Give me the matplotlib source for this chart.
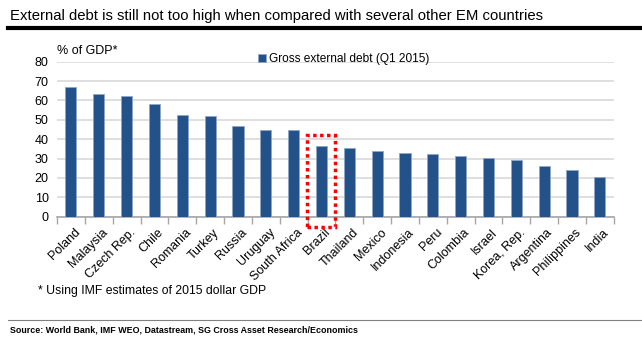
import numpy as np
import matplotlib.pyplot as plt
import matplotlib.transforms as mtransforms
from matplotlib.patches import Rectangle

plt.rcParams['font.family'] = ['Liberation Sans', 'DejaVu Sans']

## Data:
countries = ['Poland', 'Malaysia', 'Czech Rep.', 'Chile', 'Romania', 'Turkey', 'Russia',
             'Uruguay', 'South Africa', 'Brazil', 'Thailand', 'Mexico', 'Indonesia', 'Peru',
             'Colombia', 'Israel', 'Korea, Rep.', 'Argentina', 'Philippines', 'India']
ext_debt = [66.7, 63.2, 62.4, 58.2, 52.6, 52.0, 47.0, 44.7, 44.7, 36.6,
            35.3, 34.1, 32.8, 32.2, 31.5, 30.3, 29.1, 26.0, 24.1, 20.4]
y_ticks = [0, 10, 20, 30, 40, 50, 60, 70, 80]
highlight = 'Brazil'

bar_color = '#23528A'
x = np.arange(len(countries))

fig = plt.figure(figsize=(6.42, 3.46), dpi=100)
ax = fig.add_axes([0.0888, 0.3737, 0.8672, 0.448])

ax.bar(x, ext_debt, width=0.4, color=bar_color, edgecolor='#8fa6c4', linewidth=0.6,
       zorder=3, label='Gross external debt (Q1 2015)')

ax.set_xlim(-0.5, len(countries) - 0.5)
ax.set_ylim(0, 80)
ax.set_yticks(y_ticks)
ax.tick_params(axis='y', length=0, labelsize=9, pad=6)
ax.yaxis.grid(True, color='#d9d9d9', linewidth=1.2, zorder=0)

# labels at bar centres, tick marks on the category boundaries
ax.set_xticks(x)
ax.set_xticklabels(countries, rotation=45, ha='right', rotation_mode='anchor', fontsize=9)
ax.tick_params(axis='x', which='major', length=0, pad=7)
shift = mtransforms.ScaledTranslation(3 / 100, 0, fig.dpi_scale_trans)
for lbl in ax.get_xticklabels():
    lbl.set_transform(lbl.get_transform() + shift)
ax.set_xticks(np.arange(-0.5, len(countries), 1), minor=True)
ax.tick_params(axis='x', which='minor', length=5, color='#a6a6a6', width=1)

for s in ['top', 'right', 'left']:
    ax.spines[s].set_visible(False)
ax.spines['bottom'].set_color('#a6a6a6')
ax.spines['bottom'].set_linewidth(1.2)

# dotted box round the highlighted country
i = countries.index(highlight)
box = Rectangle((i - 0.53, -5.2), 1.02, 47.4, fill=False, edgecolor='#ff0000',
                linestyle=(0, (1, 1)), linewidth=2.5, clip_on=False, zorder=4)
ax.add_patch(box)

ax.legend(loc='upper left', bbox_to_anchor=(0.352, 1.085), frameon=False, fontsize=8.6,
          handlelength=0.7, handleheight=0.7, handletextpad=0.2, borderaxespad=0)

fig.text(0.089, 0.836, '% of GDP*', fontsize=9, va='bottom')
fig.text(0.059, 0.16, '* Using IMF estimates of 2015 dollar GDP', fontsize=8.8, va='center')

fig.text(0.016, 0.955, 'External debt is still not too high when compared with several other EM countries',
         fontsize=10.7, va='center')
fig.add_artist(plt.Line2D([0.012, 1.0], [0.918, 0.918], color='black', linewidth=3))
fig.add_artist(plt.Line2D([0.012, 1.0], [0.075, 0.075], color='#808080', linewidth=0.8))
fig.text(0.016, 0.045, 'Source: World Bank, IMF WEO, Datastream, SG Cross Asset Research/Economics',
         fontsize=6.4, fontweight='bold', va='center')

plt.savefig('out.png', dpi=100)
